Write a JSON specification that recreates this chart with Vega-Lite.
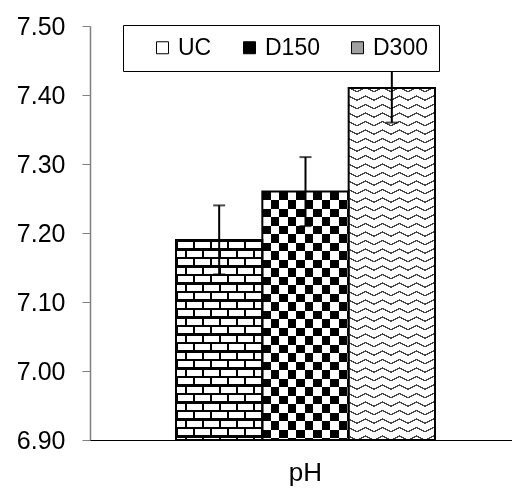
{
"$schema": "https://vega.github.io/schema/vega-lite/v6.json",
"width": 422, "height": 414,
"autosize": {"type": "none"},
"padding": {"left": 90, "top": 26, "right": 0, "bottom": 49},
"background": "#ffffff",
"config": {"view": {"stroke": null}, "font": "Liberation Sans"},
"data": {"values": [
 {"param": "pH", "series": "UC", "value": 7.19, "lo": 7.14, "hi": 7.24},
 {"param": "pH", "series": "D150", "value": 7.26, "lo": 7.21, "hi": 7.31},
 {"param": "pH", "series": "D300", "value": 7.41, "lo": 7.36, "hi": 7.46}
]},
"encoding": {
 "x": {"field": "param", "type": "nominal", "scale": {"paddingInner": 0, "paddingOuter": 0.3147, "align": 0.5276},
   "axis": {"title": null, "labelAngle": 0, "labelFontSize": 26, "labelColor": "#000", "labelPadding": 19, "ticks": false, "domainColor": "#000", "domainWidth": 1, "zindex": 1}},
 "xOffset": {"field": "series", "type": "nominal", "scale": {"domain": ["UC", "D150", "D300"], "paddingInner": 0, "paddingOuter": 0}}
},
"layer": [
 {"encoding": {
   "y": {"field": "value", "type": "quantitative", "scale": {"domain": [6.9, 7.5], "zero": false, "nice": false},
     "axis": {"title": null, "values": [6.9, 7.0, 7.1, 7.2, 7.3, 7.4, 7.5], "format": ".2f", "labelFontSize": 25, "labelColor": "#000", "labelPadding": 17, "tickSize": 8, "tickColor": "#808080", "domainColor": "#808080", "domainWidth": 1.5, "grid": false, "labelOverlap": false}},
   "y2": {"datum": 6.9}},
  "layer": [
   {"mark": {"type": "bar"},
    "encoding": {"color": {"field": "series", "type": "nominal",
      "scale": {"domain": ["UC", "D150", "D300"], "range": ["#ffffff", "#000000", "#a0a0a0"]},
      "legend": {"orient": "none", "legendX": 33, "legendY": -1, "direction": "horizontal", "title": " ", "titleOrient": "left", "titleFontSize": 23, "titlePadding": 17, "padding": 11, "strokeColor": "#000", "fillColor": "#fff", "labelFontSize": 23, "labelColor": "#000", "symbolType": "square", "symbolSize": 144, "symbolStrokeColor": "#000", "symbolStrokeWidth": 1, "labelOffset": 4, "columnPadding": 26, "zindex": 1, "labelExpr": "datum.label === 'D300' ? 'D300     ' : datum.label"}}}},
   {"transform": [{"filter": "datum.series === 'UC'"}],
    "mark": {"type": "bar", "fill": {"gradient": "linear", "x1": 0, "y1": 0, "x2": 4.923, "y2": 0, "stops": [
{"offset":0,"color":"#fff"},{"offset":0.0054,"color":"#fff"},{"offset":0.0054,"color":"#000"},{"offset":0.02,"color":"#000"},{"offset":0.02,"color":"#fff"},{"offset":0.0254,"color":"#fff"},{"offset":0.0254,"color":"#000"},{"offset":0.04,"color":"#000"},{"offset":0.04,"color":"#fff"},{"offset":0.0454,"color":"#fff"},{"offset":0.0454,"color":"#000"},{"offset":0.06,"color":"#000"},{"offset":0.06,"color":"#fff"},{"offset":0.0654,"color":"#fff"},{"offset":0.0654,"color":"#000"},{"offset":0.08,"color":"#000"},{"offset":0.08,"color":"#fff"},{"offset":0.0854,"color":"#fff"},{"offset":0.0854,"color":"#000"},{"offset":0.1,"color":"#000"},{"offset":0.1,"color":"#fff"},{"offset":0.1054,"color":"#fff"},{"offset":0.1054,"color":"#000"},{"offset":0.12,"color":"#000"},{"offset":0.12,"color":"#fff"},{"offset":0.1254,"color":"#fff"},{"offset":0.1254,"color":"#000"},{"offset":0.14,"color":"#000"},{"offset":0.14,"color":"#fff"},{"offset":0.1454,"color":"#fff"},{"offset":0.1454,"color":"#000"},{"offset":0.16,"color":"#000"},{"offset":0.16,"color":"#fff"},{"offset":0.1654,"color":"#fff"},{"offset":0.1654,"color":"#000"},{"offset":0.18,"color":"#000"},{"offset":0.18,"color":"#fff"},{"offset":0.1854,"color":"#fff"},{"offset":0.1854,"color":"#000"},{"offset":0.2,"color":"#000"},{"offset":0.2,"color":"#fff"},{"offset":0.2054,"color":"#fff"},{"offset":0.2054,"color":"#000"},{"offset":0.22,"color":"#000"}]}}},
   {"transform": [{"filter": "datum.series === 'UC'"}],
    "mark": {"type": "bar", "blend": "multiply", "fill": {"gradient": "linear", "x1": 0, "y1": 0, "x2": 0, "y2": 2.1239, "stops": [
{"offset":0,"color":"#fff"},{"offset":0.02,"color":"#fff"},{"offset":0.02,"color":"#000"},{"offset":0.04,"color":"#000"},{"offset":0.04,"color":"#fff"},{"offset":0.06,"color":"#fff"},{"offset":0.06,"color":"#000"},{"offset":0.08,"color":"#000"},{"offset":0.08,"color":"#fff"},{"offset":0.1,"color":"#fff"},{"offset":0.1,"color":"#000"},{"offset":0.12,"color":"#000"},{"offset":0.12,"color":"#fff"},{"offset":0.14,"color":"#fff"},{"offset":0.14,"color":"#000"},{"offset":0.16,"color":"#000"},{"offset":0.16,"color":"#fff"},{"offset":0.18,"color":"#fff"},{"offset":0.18,"color":"#000"},{"offset":0.2,"color":"#000"},{"offset":0.2,"color":"#fff"},{"offset":0.22,"color":"#fff"},{"offset":0.22,"color":"#000"},{"offset":0.24,"color":"#000"},{"offset":0.24,"color":"#fff"},{"offset":0.26,"color":"#fff"},{"offset":0.26,"color":"#000"},{"offset":0.28,"color":"#000"},{"offset":0.28,"color":"#fff"},{"offset":0.3,"color":"#fff"},{"offset":0.3,"color":"#000"},{"offset":0.32,"color":"#000"},{"offset":0.32,"color":"#fff"},{"offset":0.34,"color":"#fff"},{"offset":0.34,"color":"#000"},{"offset":0.36,"color":"#000"},{"offset":0.36,"color":"#fff"},{"offset":0.38,"color":"#fff"},{"offset":0.38,"color":"#000"},{"offset":0.4,"color":"#000"},{"offset":0.4,"color":"#fff"},{"offset":0.42,"color":"#fff"},{"offset":0.42,"color":"#000"},{"offset":0.44,"color":"#000"},{"offset":0.44,"color":"#fff"},{"offset":0.46,"color":"#fff"},{"offset":0.46,"color":"#000"},{"offset":0.48,"color":"#000"}]}}},
   {"transform": [{"filter": "datum.series === 'UC'"}],
    "mark": {"type": "bar", "blend": "difference", "fill": {"gradient": "linear", "x1": 0, "y1": 0, "x2": 4.923, "y2": 0, "stops": [
{"offset":0,"color":"#fff"},{"offset":0.02,"color":"#fff"},{"offset":0.02,"color":"#000"},{"offset":0.0254,"color":"#000"},{"offset":0.0254,"color":"#fff"},{"offset":0.06,"color":"#fff"},{"offset":0.06,"color":"#000"},{"offset":0.0654,"color":"#000"},{"offset":0.0654,"color":"#fff"},{"offset":0.1,"color":"#fff"},{"offset":0.1,"color":"#000"},{"offset":0.1054,"color":"#000"},{"offset":0.1054,"color":"#fff"},{"offset":0.14,"color":"#fff"},{"offset":0.14,"color":"#000"},{"offset":0.1454,"color":"#000"},{"offset":0.1454,"color":"#fff"},{"offset":0.18,"color":"#fff"},{"offset":0.18,"color":"#000"},{"offset":0.1854,"color":"#000"},{"offset":0.1854,"color":"#fff"},{"offset":0.22,"color":"#fff"}]}}},
   {"transform": [{"filter": "datum.series === 'UC'"}],
    "mark": {"type": "bar", "blend": "multiply", "fill": {"gradient": "linear", "x1": 0, "y1": 0, "x2": 0, "y2": 2.1239, "stops": [
{"offset":0,"color":"#000"},{"offset":0.0054,"color":"#000"},{"offset":0.0054,"color":"#fff"},
{"offset":0.02,"color":"#fff"},{"offset":0.02,"color":"#000"},{"offset":0.0254,"color":"#000"},{"offset":0.0254,"color":"#fff"},
{"offset":0.04,"color":"#fff"},{"offset":0.04,"color":"#000"},{"offset":0.0454,"color":"#000"},{"offset":0.0454,"color":"#fff"},
{"offset":0.06,"color":"#fff"},{"offset":0.06,"color":"#000"},{"offset":0.0654,"color":"#000"},{"offset":0.0654,"color":"#fff"},
{"offset":0.08,"color":"#fff"},{"offset":0.08,"color":"#000"},{"offset":0.0854,"color":"#000"},{"offset":0.0854,"color":"#fff"},
{"offset":0.1,"color":"#fff"},{"offset":0.1,"color":"#000"},{"offset":0.1054,"color":"#000"},{"offset":0.1054,"color":"#fff"},
{"offset":0.12,"color":"#fff"},{"offset":0.12,"color":"#000"},{"offset":0.1254,"color":"#000"},{"offset":0.1254,"color":"#fff"},
{"offset":0.14,"color":"#fff"},{"offset":0.14,"color":"#000"},{"offset":0.1454,"color":"#000"},{"offset":0.1454,"color":"#fff"},
{"offset":0.16,"color":"#fff"},{"offset":0.16,"color":"#000"},{"offset":0.1654,"color":"#000"},{"offset":0.1654,"color":"#fff"},
{"offset":0.18,"color":"#fff"},{"offset":0.18,"color":"#000"},{"offset":0.1854,"color":"#000"},{"offset":0.1854,"color":"#fff"},
{"offset":0.2,"color":"#fff"},{"offset":0.2,"color":"#000"},{"offset":0.2054,"color":"#000"},{"offset":0.2054,"color":"#fff"},
{"offset":0.22,"color":"#fff"},{"offset":0.22,"color":"#000"},{"offset":0.2254,"color":"#000"},{"offset":0.2254,"color":"#fff"},
{"offset":0.24,"color":"#fff"},{"offset":0.24,"color":"#000"},{"offset":0.2454,"color":"#000"},{"offset":0.2454,"color":"#fff"},
{"offset":0.26,"color":"#fff"},{"offset":0.26,"color":"#000"},{"offset":0.2654,"color":"#000"},{"offset":0.2654,"color":"#fff"},
{"offset":0.28,"color":"#fff"},{"offset":0.28,"color":"#000"},{"offset":0.2854,"color":"#000"},{"offset":0.2854,"color":"#fff"},
{"offset":0.3,"color":"#fff"},{"offset":0.3,"color":"#000"},{"offset":0.3054,"color":"#000"},{"offset":0.3054,"color":"#fff"},
{"offset":0.32,"color":"#fff"},{"offset":0.32,"color":"#000"},{"offset":0.3254,"color":"#000"},{"offset":0.3254,"color":"#fff"},
{"offset":0.34,"color":"#fff"},{"offset":0.34,"color":"#000"},{"offset":0.3454,"color":"#000"},{"offset":0.3454,"color":"#fff"},
{"offset":0.36,"color":"#fff"},{"offset":0.36,"color":"#000"},{"offset":0.3654,"color":"#000"},{"offset":0.3654,"color":"#fff"},
{"offset":0.38,"color":"#fff"},{"offset":0.38,"color":"#000"},{"offset":0.3854,"color":"#000"},{"offset":0.3854,"color":"#fff"},
{"offset":0.4,"color":"#fff"},{"offset":0.4,"color":"#000"},{"offset":0.4054,"color":"#000"},{"offset":0.4054,"color":"#fff"},
{"offset":0.42,"color":"#fff"},{"offset":0.42,"color":"#000"},{"offset":0.4254,"color":"#000"},{"offset":0.4254,"color":"#fff"},
{"offset":0.44,"color":"#fff"},{"offset":0.44,"color":"#000"},{"offset":0.4454,"color":"#000"},{"offset":0.4454,"color":"#fff"},
{"offset":0.46,"color":"#fff"},{"offset":0.46,"color":"#000"},{"offset":0.4654,"color":"#000"},{"offset":0.4654,"color":"#fff"},
{"offset":0.48,"color":"#fff"}]}}},
   {"transform": [{"filter": "datum.series === 'D150'"}],
    "mark": {"type": "bar", "fill": {"gradient": "linear", "x1": 0, "y1": 0, "x2": 0, "y2": 1.711, "stops": [
{"offset":0,"color":"#fff"},{"offset":0.02,"color":"#fff"},{"offset":0.02,"color":"#000"},{"offset":0.04,"color":"#000"},{"offset":0.04,"color":"#fff"},{"offset":0.06,"color":"#fff"},{"offset":0.06,"color":"#000"},{"offset":0.08,"color":"#000"},{"offset":0.08,"color":"#fff"},{"offset":0.1,"color":"#fff"},{"offset":0.1,"color":"#000"},{"offset":0.12,"color":"#000"},{"offset":0.12,"color":"#fff"},{"offset":0.14,"color":"#fff"},{"offset":0.14,"color":"#000"},{"offset":0.16,"color":"#000"},{"offset":0.16,"color":"#fff"},{"offset":0.18,"color":"#fff"},{"offset":0.18,"color":"#000"},{"offset":0.2,"color":"#000"},{"offset":0.2,"color":"#fff"},{"offset":0.22,"color":"#fff"},{"offset":0.22,"color":"#000"},{"offset":0.24,"color":"#000"},{"offset":0.24,"color":"#fff"},{"offset":0.26,"color":"#fff"},{"offset":0.26,"color":"#000"},{"offset":0.28,"color":"#000"},{"offset":0.28,"color":"#fff"},{"offset":0.3,"color":"#fff"},{"offset":0.3,"color":"#000"},{"offset":0.32,"color":"#000"},{"offset":0.32,"color":"#fff"},{"offset":0.34,"color":"#fff"},{"offset":0.34,"color":"#000"},{"offset":0.36,"color":"#000"},{"offset":0.36,"color":"#fff"},{"offset":0.38,"color":"#fff"},{"offset":0.38,"color":"#000"},{"offset":0.4,"color":"#000"},{"offset":0.4,"color":"#fff"},{"offset":0.42,"color":"#fff"},{"offset":0.42,"color":"#000"},{"offset":0.44,"color":"#000"},{"offset":0.44,"color":"#fff"},{"offset":0.46,"color":"#fff"},{"offset":0.46,"color":"#000"},{"offset":0.48,"color":"#000"},{"offset":0.48,"color":"#fff"},{"offset":0.5,"color":"#fff"},{"offset":0.5,"color":"#000"},{"offset":0.52,"color":"#000"},{"offset":0.52,"color":"#fff"},{"offset":0.54,"color":"#fff"},{"offset":0.54,"color":"#000"},{"offset":0.56,"color":"#000"},{"offset":0.56,"color":"#fff"},{"offset":0.58,"color":"#fff"},{"offset":0.58,"color":"#000"},{"offset":0.6,"color":"#000"}]}}},
   {"transform": [{"filter": "datum.series === 'D150'"}],
    "mark": {"type": "bar", "blend": "difference", "fill": {"gradient": "linear", "x1": 0, "y1": 0, "x2": 4.923, "y2": 0, "stops": [
{"offset":0,"color":"#fff"},{"offset":0.02,"color":"#fff"},{"offset":0.02,"color":"#000"},{"offset":0.04,"color":"#000"},{"offset":0.04,"color":"#fff"},{"offset":0.06,"color":"#fff"},{"offset":0.06,"color":"#000"},{"offset":0.08,"color":"#000"},{"offset":0.08,"color":"#fff"},{"offset":0.1,"color":"#fff"},{"offset":0.1,"color":"#000"},{"offset":0.12,"color":"#000"},{"offset":0.12,"color":"#fff"},{"offset":0.14,"color":"#fff"},{"offset":0.14,"color":"#000"},{"offset":0.16,"color":"#000"},{"offset":0.16,"color":"#fff"},{"offset":0.18,"color":"#fff"},{"offset":0.18,"color":"#000"},{"offset":0.2,"color":"#000"},{"offset":0.2,"color":"#fff"},{"offset":0.22,"color":"#fff"}]}}},
   {"transform": [{"filter": "datum.series === 'D300'"}],
    "mark": {"type": "bar", "fill": {"gradient": "linear", "x1": 1, "y1": 0, "x2": 0.85405, "y2": 1.18984, "stops": [
{"offset":0,"color":"#000"},{"offset":0.0018,"color":"#000"},{"offset":0.0018,"color":"#fff"},
{"offset":0.0182,"color":"#fff"},{"offset":0.0182,"color":"#000"},{"offset":0.0218,"color":"#000"},{"offset":0.0218,"color":"#fff"},
{"offset":0.0382,"color":"#fff"},{"offset":0.0382,"color":"#000"},{"offset":0.0418,"color":"#000"},{"offset":0.0418,"color":"#fff"},
{"offset":0.0582,"color":"#fff"},{"offset":0.0582,"color":"#000"},{"offset":0.0618,"color":"#000"},{"offset":0.0618,"color":"#fff"},
{"offset":0.0782,"color":"#fff"},{"offset":0.0782,"color":"#000"},{"offset":0.0818,"color":"#000"},{"offset":0.0818,"color":"#fff"},
{"offset":0.0982,"color":"#fff"},{"offset":0.0982,"color":"#000"},{"offset":0.1018,"color":"#000"},{"offset":0.1018,"color":"#fff"},
{"offset":0.1182,"color":"#fff"},{"offset":0.1182,"color":"#000"},{"offset":0.1218,"color":"#000"},{"offset":0.1218,"color":"#fff"},
{"offset":0.1382,"color":"#fff"},{"offset":0.1382,"color":"#000"},{"offset":0.1418,"color":"#000"},{"offset":0.1418,"color":"#fff"},
{"offset":0.1582,"color":"#fff"},{"offset":0.1582,"color":"#000"},{"offset":0.1618,"color":"#000"},{"offset":0.1618,"color":"#fff"},
{"offset":0.1782,"color":"#fff"},{"offset":0.1782,"color":"#000"},{"offset":0.1818,"color":"#000"},{"offset":0.1818,"color":"#fff"},
{"offset":0.1982,"color":"#fff"},{"offset":0.1982,"color":"#000"},{"offset":0.2018,"color":"#000"},{"offset":0.2018,"color":"#fff"},
{"offset":0.2182,"color":"#fff"},{"offset":0.2182,"color":"#000"},{"offset":0.2218,"color":"#000"},{"offset":0.2218,"color":"#fff"},
{"offset":0.2382,"color":"#fff"},{"offset":0.2382,"color":"#000"},{"offset":0.2418,"color":"#000"},{"offset":0.2418,"color":"#fff"},
{"offset":0.2582,"color":"#fff"},{"offset":0.2582,"color":"#000"},{"offset":0.2618,"color":"#000"},{"offset":0.2618,"color":"#fff"},
{"offset":0.2782,"color":"#fff"},{"offset":0.2782,"color":"#000"},{"offset":0.2818,"color":"#000"},{"offset":0.2818,"color":"#fff"},
{"offset":0.2982,"color":"#fff"},{"offset":0.2982,"color":"#000"},{"offset":0.3018,"color":"#000"},{"offset":0.3018,"color":"#fff"},
{"offset":0.3182,"color":"#fff"},{"offset":0.3182,"color":"#000"},{"offset":0.3218,"color":"#000"},{"offset":0.3218,"color":"#fff"},
{"offset":0.3382,"color":"#fff"},{"offset":0.3382,"color":"#000"},{"offset":0.3418,"color":"#000"},{"offset":0.3418,"color":"#fff"},
{"offset":0.3582,"color":"#fff"},{"offset":0.3582,"color":"#000"},{"offset":0.3618,"color":"#000"},{"offset":0.3618,"color":"#fff"},
{"offset":0.3782,"color":"#fff"},{"offset":0.3782,"color":"#000"},{"offset":0.3818,"color":"#000"},{"offset":0.3818,"color":"#fff"},
{"offset":0.3982,"color":"#fff"},{"offset":0.3982,"color":"#000"},{"offset":0.4018,"color":"#000"},{"offset":0.4018,"color":"#fff"},
{"offset":0.4182,"color":"#fff"},{"offset":0.4182,"color":"#000"},{"offset":0.4218,"color":"#000"},{"offset":0.4218,"color":"#fff"},
{"offset":0.4382,"color":"#fff"},{"offset":0.4382,"color":"#000"},{"offset":0.4418,"color":"#000"},{"offset":0.4418,"color":"#fff"},
{"offset":0.4582,"color":"#fff"},{"offset":0.4582,"color":"#000"},{"offset":0.4618,"color":"#000"},{"offset":0.4618,"color":"#fff"},
{"offset":0.4782,"color":"#fff"},{"offset":0.4782,"color":"#000"},{"offset":0.4818,"color":"#000"},{"offset":0.4818,"color":"#fff"},
{"offset":0.4982,"color":"#fff"},{"offset":0.4982,"color":"#000"},{"offset":0.5018,"color":"#000"},{"offset":0.5018,"color":"#fff"},
{"offset":0.5182,"color":"#fff"},{"offset":0.5182,"color":"#000"},{"offset":0.5218,"color":"#000"},{"offset":0.5218,"color":"#fff"},
{"offset":0.5382,"color":"#fff"},{"offset":0.5382,"color":"#000"},{"offset":0.5418,"color":"#000"},{"offset":0.5418,"color":"#fff"},
{"offset":0.5582,"color":"#fff"},{"offset":0.5582,"color":"#000"},{"offset":0.5618,"color":"#000"},{"offset":0.5618,"color":"#fff"},
{"offset":0.5782,"color":"#fff"},{"offset":0.5782,"color":"#000"},{"offset":0.5818,"color":"#000"},{"offset":0.5818,"color":"#fff"},
{"offset":0.5982,"color":"#fff"},{"offset":0.5982,"color":"#000"},{"offset":0.6018,"color":"#000"},{"offset":0.6018,"color":"#fff"},
{"offset":0.6182,"color":"#fff"},{"offset":0.6182,"color":"#000"},{"offset":0.6218,"color":"#000"},{"offset":0.6218,"color":"#fff"},
{"offset":0.6382,"color":"#fff"},{"offset":0.6382,"color":"#000"},{"offset":0.6418,"color":"#000"},{"offset":0.6418,"color":"#fff"},
{"offset":0.6582,"color":"#fff"},{"offset":0.6582,"color":"#000"},{"offset":0.6618,"color":"#000"},{"offset":0.6618,"color":"#fff"},
{"offset":0.6782,"color":"#fff"},{"offset":0.6782,"color":"#000"},{"offset":0.6818,"color":"#000"},{"offset":0.6818,"color":"#fff"},
{"offset":0.6982,"color":"#fff"},{"offset":0.6982,"color":"#000"},{"offset":0.7018,"color":"#000"},{"offset":0.7018,"color":"#fff"},
{"offset":0.7182,"color":"#fff"},{"offset":0.7182,"color":"#000"},{"offset":0.7218,"color":"#000"},{"offset":0.7218,"color":"#fff"},
{"offset":0.7382,"color":"#fff"},{"offset":0.7382,"color":"#000"},{"offset":0.7418,"color":"#000"},{"offset":0.7418,"color":"#fff"},
{"offset":0.7582,"color":"#fff"},{"offset":0.7582,"color":"#000"},{"offset":0.7618,"color":"#000"},{"offset":0.7618,"color":"#fff"},
{"offset":0.7782,"color":"#fff"},{"offset":0.7782,"color":"#000"},{"offset":0.7818,"color":"#000"},{"offset":0.7818,"color":"#fff"},
{"offset":0.7982,"color":"#fff"},{"offset":0.7982,"color":"#000"},{"offset":0.8018,"color":"#000"},{"offset":0.8018,"color":"#fff"},
{"offset":0.8182,"color":"#fff"},{"offset":0.8182,"color":"#000"},{"offset":0.8218,"color":"#000"},{"offset":0.8218,"color":"#fff"},
{"offset":0.8382,"color":"#fff"},{"offset":0.8382,"color":"#000"},{"offset":0.8418,"color":"#000"},{"offset":0.8418,"color":"#fff"},
{"offset":0.8582,"color":"#fff"},{"offset":0.8582,"color":"#000"},{"offset":0.8618,"color":"#000"},{"offset":0.8618,"color":"#fff"},
{"offset":0.8782,"color":"#fff"},{"offset":0.8782,"color":"#000"},{"offset":0.8818,"color":"#000"},{"offset":0.8818,"color":"#fff"},
{"offset":0.8982,"color":"#fff"},{"offset":0.8982,"color":"#000"},{"offset":0.9018,"color":"#000"},{"offset":0.9018,"color":"#fff"},
{"offset":0.9182,"color":"#fff"},{"offset":0.9182,"color":"#000"},{"offset":0.9218,"color":"#000"},{"offset":0.9218,"color":"#fff"}]}}},
   {"transform": [{"filter": "datum.series === 'D300'"}],
    "mark": {"type": "bar", "blend": "difference", "fill": {"gradient": "linear", "x1": 0, "y1": 0, "x2": 0.14595, "y2": 1.18984, "stops": [
{"offset":0,"color":"#000"},{"offset":0.0002,"color":"#000"},{"offset":0.0002,"color":"#fff"},
{"offset":0.0167,"color":"#fff"},{"offset":0.0167,"color":"#000"},{"offset":0.0202,"color":"#000"},{"offset":0.0202,"color":"#fff"},
{"offset":0.0367,"color":"#fff"},{"offset":0.0367,"color":"#000"},{"offset":0.0402,"color":"#000"},{"offset":0.0402,"color":"#fff"},
{"offset":0.0567,"color":"#fff"},{"offset":0.0567,"color":"#000"},{"offset":0.0602,"color":"#000"},{"offset":0.0602,"color":"#fff"},
{"offset":0.0767,"color":"#fff"},{"offset":0.0767,"color":"#000"},{"offset":0.0802,"color":"#000"},{"offset":0.0802,"color":"#fff"},
{"offset":0.0967,"color":"#fff"},{"offset":0.0967,"color":"#000"},{"offset":0.1002,"color":"#000"},{"offset":0.1002,"color":"#fff"},
{"offset":0.1167,"color":"#fff"},{"offset":0.1167,"color":"#000"},{"offset":0.1202,"color":"#000"},{"offset":0.1202,"color":"#fff"},
{"offset":0.1367,"color":"#fff"},{"offset":0.1367,"color":"#000"},{"offset":0.1402,"color":"#000"},{"offset":0.1402,"color":"#fff"},
{"offset":0.1567,"color":"#fff"},{"offset":0.1567,"color":"#000"},{"offset":0.1602,"color":"#000"},{"offset":0.1602,"color":"#fff"},
{"offset":0.1767,"color":"#fff"},{"offset":0.1767,"color":"#000"},{"offset":0.1802,"color":"#000"},{"offset":0.1802,"color":"#fff"},
{"offset":0.1967,"color":"#fff"},{"offset":0.1967,"color":"#000"},{"offset":0.2002,"color":"#000"},{"offset":0.2002,"color":"#fff"},
{"offset":0.2167,"color":"#fff"},{"offset":0.2167,"color":"#000"},{"offset":0.2202,"color":"#000"},{"offset":0.2202,"color":"#fff"},
{"offset":0.2367,"color":"#fff"},{"offset":0.2367,"color":"#000"},{"offset":0.2402,"color":"#000"},{"offset":0.2402,"color":"#fff"},
{"offset":0.2567,"color":"#fff"},{"offset":0.2567,"color":"#000"},{"offset":0.2602,"color":"#000"},{"offset":0.2602,"color":"#fff"},
{"offset":0.2767,"color":"#fff"},{"offset":0.2767,"color":"#000"},{"offset":0.2802,"color":"#000"},{"offset":0.2802,"color":"#fff"},
{"offset":0.2967,"color":"#fff"},{"offset":0.2967,"color":"#000"},{"offset":0.3002,"color":"#000"},{"offset":0.3002,"color":"#fff"},
{"offset":0.3167,"color":"#fff"},{"offset":0.3167,"color":"#000"},{"offset":0.3202,"color":"#000"},{"offset":0.3202,"color":"#fff"},
{"offset":0.3367,"color":"#fff"},{"offset":0.3367,"color":"#000"},{"offset":0.3402,"color":"#000"},{"offset":0.3402,"color":"#fff"},
{"offset":0.3567,"color":"#fff"},{"offset":0.3567,"color":"#000"},{"offset":0.3602,"color":"#000"},{"offset":0.3602,"color":"#fff"},
{"offset":0.3767,"color":"#fff"},{"offset":0.3767,"color":"#000"},{"offset":0.3802,"color":"#000"},{"offset":0.3802,"color":"#fff"},
{"offset":0.3967,"color":"#fff"},{"offset":0.3967,"color":"#000"},{"offset":0.4002,"color":"#000"},{"offset":0.4002,"color":"#fff"},
{"offset":0.4167,"color":"#fff"},{"offset":0.4167,"color":"#000"},{"offset":0.4202,"color":"#000"},{"offset":0.4202,"color":"#fff"},
{"offset":0.4367,"color":"#fff"},{"offset":0.4367,"color":"#000"},{"offset":0.4402,"color":"#000"},{"offset":0.4402,"color":"#fff"},
{"offset":0.4567,"color":"#fff"},{"offset":0.4567,"color":"#000"},{"offset":0.4602,"color":"#000"},{"offset":0.4602,"color":"#fff"},
{"offset":0.4767,"color":"#fff"},{"offset":0.4767,"color":"#000"},{"offset":0.4802,"color":"#000"},{"offset":0.4802,"color":"#fff"},
{"offset":0.4967,"color":"#fff"},{"offset":0.4967,"color":"#000"},{"offset":0.5002,"color":"#000"},{"offset":0.5002,"color":"#fff"},
{"offset":0.5167,"color":"#fff"},{"offset":0.5167,"color":"#000"},{"offset":0.5202,"color":"#000"},{"offset":0.5202,"color":"#fff"},
{"offset":0.5367,"color":"#fff"},{"offset":0.5367,"color":"#000"},{"offset":0.5402,"color":"#000"},{"offset":0.5402,"color":"#fff"},
{"offset":0.5567,"color":"#fff"},{"offset":0.5567,"color":"#000"},{"offset":0.5602,"color":"#000"},{"offset":0.5602,"color":"#fff"},
{"offset":0.5767,"color":"#fff"},{"offset":0.5767,"color":"#000"},{"offset":0.5802,"color":"#000"},{"offset":0.5802,"color":"#fff"},
{"offset":0.5967,"color":"#fff"},{"offset":0.5967,"color":"#000"},{"offset":0.6002,"color":"#000"},{"offset":0.6002,"color":"#fff"},
{"offset":0.6167,"color":"#fff"},{"offset":0.6167,"color":"#000"},{"offset":0.6202,"color":"#000"},{"offset":0.6202,"color":"#fff"},
{"offset":0.6367,"color":"#fff"},{"offset":0.6367,"color":"#000"},{"offset":0.6402,"color":"#000"},{"offset":0.6402,"color":"#fff"},
{"offset":0.6567,"color":"#fff"},{"offset":0.6567,"color":"#000"},{"offset":0.6602,"color":"#000"},{"offset":0.6602,"color":"#fff"},
{"offset":0.6767,"color":"#fff"},{"offset":0.6767,"color":"#000"},{"offset":0.6802,"color":"#000"},{"offset":0.6802,"color":"#fff"},
{"offset":0.6967,"color":"#fff"},{"offset":0.6967,"color":"#000"},{"offset":0.7002,"color":"#000"},{"offset":0.7002,"color":"#fff"},
{"offset":0.7167,"color":"#fff"},{"offset":0.7167,"color":"#000"},{"offset":0.7202,"color":"#000"},{"offset":0.7202,"color":"#fff"},
{"offset":0.7367,"color":"#fff"},{"offset":0.7367,"color":"#000"},{"offset":0.7402,"color":"#000"},{"offset":0.7402,"color":"#fff"},
{"offset":0.7567,"color":"#fff"},{"offset":0.7567,"color":"#000"},{"offset":0.7602,"color":"#000"},{"offset":0.7602,"color":"#fff"},
{"offset":0.7767,"color":"#fff"},{"offset":0.7767,"color":"#000"},{"offset":0.7802,"color":"#000"},{"offset":0.7802,"color":"#fff"},
{"offset":0.7967,"color":"#fff"},{"offset":0.7967,"color":"#000"},{"offset":0.8002,"color":"#000"},{"offset":0.8002,"color":"#fff"},
{"offset":0.8167,"color":"#fff"},{"offset":0.8167,"color":"#000"},{"offset":0.8202,"color":"#000"},{"offset":0.8202,"color":"#fff"},
{"offset":0.8367,"color":"#fff"},{"offset":0.8367,"color":"#000"},{"offset":0.8402,"color":"#000"},{"offset":0.8402,"color":"#fff"},
{"offset":0.8567,"color":"#fff"},{"offset":0.8567,"color":"#000"},{"offset":0.8602,"color":"#000"},{"offset":0.8602,"color":"#fff"},
{"offset":0.8767,"color":"#fff"},{"offset":0.8767,"color":"#000"},{"offset":0.8802,"color":"#000"},{"offset":0.8802,"color":"#fff"},
{"offset":0.8967,"color":"#fff"},{"offset":0.8967,"color":"#000"},{"offset":0.9002,"color":"#000"},{"offset":0.9002,"color":"#fff"},
{"offset":0.9167,"color":"#fff"},{"offset":0.9167,"color":"#000"},{"offset":0.9202,"color":"#000"},{"offset":0.9202,"color":"#fff"}]}}},
   {"transform": [{"filter": "datum.series === 'D300'"}],
    "mark": {"type": "bar", "blend": "multiply", "fill": {"gradient": "linear", "x1": 0, "y1": 0, "x2": 4.923, "y2": 0, "stops": [
{"offset":0,"color":"#fff"},{"offset":0.02,"color":"#fff"},{"offset":0.02,"color":"#000"},{"offset":0.04,"color":"#000"},{"offset":0.04,"color":"#fff"},{"offset":0.06,"color":"#fff"},{"offset":0.06,"color":"#000"},{"offset":0.08,"color":"#000"},{"offset":0.08,"color":"#fff"},{"offset":0.1,"color":"#fff"},{"offset":0.1,"color":"#000"},{"offset":0.12,"color":"#000"},{"offset":0.12,"color":"#fff"},{"offset":0.14,"color":"#fff"},{"offset":0.14,"color":"#000"},{"offset":0.16,"color":"#000"},{"offset":0.16,"color":"#fff"},{"offset":0.18,"color":"#fff"},{"offset":0.18,"color":"#000"},{"offset":0.2,"color":"#000"},{"offset":0.2,"color":"#fff"},{"offset":0.22,"color":"#fff"}]}}},
   {"transform": [{"filter": "datum.series === 'D300'"}],
    "mark": {"type": "bar", "blend": "difference", "fill": {"gradient": "linear", "x1": 0, "y1": 0, "x2": 0.14595, "y2": 1.18984, "stops": [
{"offset":0,"color":"#000"},{"offset":0.0002,"color":"#000"},{"offset":0.0002,"color":"#fff"},
{"offset":0.0167,"color":"#fff"},{"offset":0.0167,"color":"#000"},{"offset":0.0202,"color":"#000"},{"offset":0.0202,"color":"#fff"},
{"offset":0.0367,"color":"#fff"},{"offset":0.0367,"color":"#000"},{"offset":0.0402,"color":"#000"},{"offset":0.0402,"color":"#fff"},
{"offset":0.0567,"color":"#fff"},{"offset":0.0567,"color":"#000"},{"offset":0.0602,"color":"#000"},{"offset":0.0602,"color":"#fff"},
{"offset":0.0767,"color":"#fff"},{"offset":0.0767,"color":"#000"},{"offset":0.0802,"color":"#000"},{"offset":0.0802,"color":"#fff"},
{"offset":0.0967,"color":"#fff"},{"offset":0.0967,"color":"#000"},{"offset":0.1002,"color":"#000"},{"offset":0.1002,"color":"#fff"},
{"offset":0.1167,"color":"#fff"},{"offset":0.1167,"color":"#000"},{"offset":0.1202,"color":"#000"},{"offset":0.1202,"color":"#fff"},
{"offset":0.1367,"color":"#fff"},{"offset":0.1367,"color":"#000"},{"offset":0.1402,"color":"#000"},{"offset":0.1402,"color":"#fff"},
{"offset":0.1567,"color":"#fff"},{"offset":0.1567,"color":"#000"},{"offset":0.1602,"color":"#000"},{"offset":0.1602,"color":"#fff"},
{"offset":0.1767,"color":"#fff"},{"offset":0.1767,"color":"#000"},{"offset":0.1802,"color":"#000"},{"offset":0.1802,"color":"#fff"},
{"offset":0.1967,"color":"#fff"},{"offset":0.1967,"color":"#000"},{"offset":0.2002,"color":"#000"},{"offset":0.2002,"color":"#fff"},
{"offset":0.2167,"color":"#fff"},{"offset":0.2167,"color":"#000"},{"offset":0.2202,"color":"#000"},{"offset":0.2202,"color":"#fff"},
{"offset":0.2367,"color":"#fff"},{"offset":0.2367,"color":"#000"},{"offset":0.2402,"color":"#000"},{"offset":0.2402,"color":"#fff"},
{"offset":0.2567,"color":"#fff"},{"offset":0.2567,"color":"#000"},{"offset":0.2602,"color":"#000"},{"offset":0.2602,"color":"#fff"},
{"offset":0.2767,"color":"#fff"},{"offset":0.2767,"color":"#000"},{"offset":0.2802,"color":"#000"},{"offset":0.2802,"color":"#fff"},
{"offset":0.2967,"color":"#fff"},{"offset":0.2967,"color":"#000"},{"offset":0.3002,"color":"#000"},{"offset":0.3002,"color":"#fff"},
{"offset":0.3167,"color":"#fff"},{"offset":0.3167,"color":"#000"},{"offset":0.3202,"color":"#000"},{"offset":0.3202,"color":"#fff"},
{"offset":0.3367,"color":"#fff"},{"offset":0.3367,"color":"#000"},{"offset":0.3402,"color":"#000"},{"offset":0.3402,"color":"#fff"},
{"offset":0.3567,"color":"#fff"},{"offset":0.3567,"color":"#000"},{"offset":0.3602,"color":"#000"},{"offset":0.3602,"color":"#fff"},
{"offset":0.3767,"color":"#fff"},{"offset":0.3767,"color":"#000"},{"offset":0.3802,"color":"#000"},{"offset":0.3802,"color":"#fff"},
{"offset":0.3967,"color":"#fff"},{"offset":0.3967,"color":"#000"},{"offset":0.4002,"color":"#000"},{"offset":0.4002,"color":"#fff"},
{"offset":0.4167,"color":"#fff"},{"offset":0.4167,"color":"#000"},{"offset":0.4202,"color":"#000"},{"offset":0.4202,"color":"#fff"},
{"offset":0.4367,"color":"#fff"},{"offset":0.4367,"color":"#000"},{"offset":0.4402,"color":"#000"},{"offset":0.4402,"color":"#fff"},
{"offset":0.4567,"color":"#fff"},{"offset":0.4567,"color":"#000"},{"offset":0.4602,"color":"#000"},{"offset":0.4602,"color":"#fff"},
{"offset":0.4767,"color":"#fff"},{"offset":0.4767,"color":"#000"},{"offset":0.4802,"color":"#000"},{"offset":0.4802,"color":"#fff"},
{"offset":0.4967,"color":"#fff"},{"offset":0.4967,"color":"#000"},{"offset":0.5002,"color":"#000"},{"offset":0.5002,"color":"#fff"},
{"offset":0.5167,"color":"#fff"},{"offset":0.5167,"color":"#000"},{"offset":0.5202,"color":"#000"},{"offset":0.5202,"color":"#fff"},
{"offset":0.5367,"color":"#fff"},{"offset":0.5367,"color":"#000"},{"offset":0.5402,"color":"#000"},{"offset":0.5402,"color":"#fff"},
{"offset":0.5567,"color":"#fff"},{"offset":0.5567,"color":"#000"},{"offset":0.5602,"color":"#000"},{"offset":0.5602,"color":"#fff"},
{"offset":0.5767,"color":"#fff"},{"offset":0.5767,"color":"#000"},{"offset":0.5802,"color":"#000"},{"offset":0.5802,"color":"#fff"},
{"offset":0.5967,"color":"#fff"},{"offset":0.5967,"color":"#000"},{"offset":0.6002,"color":"#000"},{"offset":0.6002,"color":"#fff"},
{"offset":0.6167,"color":"#fff"},{"offset":0.6167,"color":"#000"},{"offset":0.6202,"color":"#000"},{"offset":0.6202,"color":"#fff"},
{"offset":0.6367,"color":"#fff"},{"offset":0.6367,"color":"#000"},{"offset":0.6402,"color":"#000"},{"offset":0.6402,"color":"#fff"},
{"offset":0.6567,"color":"#fff"},{"offset":0.6567,"color":"#000"},{"offset":0.6602,"color":"#000"},{"offset":0.6602,"color":"#fff"},
{"offset":0.6767,"color":"#fff"},{"offset":0.6767,"color":"#000"},{"offset":0.6802,"color":"#000"},{"offset":0.6802,"color":"#fff"},
{"offset":0.6967,"color":"#fff"},{"offset":0.6967,"color":"#000"},{"offset":0.7002,"color":"#000"},{"offset":0.7002,"color":"#fff"},
{"offset":0.7167,"color":"#fff"},{"offset":0.7167,"color":"#000"},{"offset":0.7202,"color":"#000"},{"offset":0.7202,"color":"#fff"},
{"offset":0.7367,"color":"#fff"},{"offset":0.7367,"color":"#000"},{"offset":0.7402,"color":"#000"},{"offset":0.7402,"color":"#fff"},
{"offset":0.7567,"color":"#fff"},{"offset":0.7567,"color":"#000"},{"offset":0.7602,"color":"#000"},{"offset":0.7602,"color":"#fff"},
{"offset":0.7767,"color":"#fff"},{"offset":0.7767,"color":"#000"},{"offset":0.7802,"color":"#000"},{"offset":0.7802,"color":"#fff"},
{"offset":0.7967,"color":"#fff"},{"offset":0.7967,"color":"#000"},{"offset":0.8002,"color":"#000"},{"offset":0.8002,"color":"#fff"},
{"offset":0.8167,"color":"#fff"},{"offset":0.8167,"color":"#000"},{"offset":0.8202,"color":"#000"},{"offset":0.8202,"color":"#fff"},
{"offset":0.8367,"color":"#fff"},{"offset":0.8367,"color":"#000"},{"offset":0.8402,"color":"#000"},{"offset":0.8402,"color":"#fff"},
{"offset":0.8567,"color":"#fff"},{"offset":0.8567,"color":"#000"},{"offset":0.8602,"color":"#000"},{"offset":0.8602,"color":"#fff"},
{"offset":0.8767,"color":"#fff"},{"offset":0.8767,"color":"#000"},{"offset":0.8802,"color":"#000"},{"offset":0.8802,"color":"#fff"},
{"offset":0.8967,"color":"#fff"},{"offset":0.8967,"color":"#000"},{"offset":0.9002,"color":"#000"},{"offset":0.9002,"color":"#fff"},
{"offset":0.9167,"color":"#fff"},{"offset":0.9167,"color":"#000"},{"offset":0.9202,"color":"#000"},{"offset":0.9202,"color":"#fff"}]}}},
   {"mark": {"type": "bar", "fill": "#fff", "stroke": "#000", "strokeWidth": 2},
    "encoding": {"fillOpacity": {"condition": {"test": "datum.series === 'D300'", "value": 0.27}, "value": 0}}}
  ]},
 {"mark": {"type": "rule", "color": "#000", "strokeWidth": 2},
  "encoding": {"y": {"field": "lo", "type": "quantitative", "axis": {"title": null}}, "y2": {"field": "hi"}}},
 {"mark": {"type": "tick", "color": "#000", "thickness": 2, "size": 12},
  "encoding": {"y": {"field": "lo", "type": "quantitative", "axis": {"title": null}}}},
 {"mark": {"type": "tick", "color": "#000", "thickness": 2, "size": 12},
  "encoding": {"y": {"field": "hi", "type": "quantitative", "axis": {"title": null}}}}
]
}
